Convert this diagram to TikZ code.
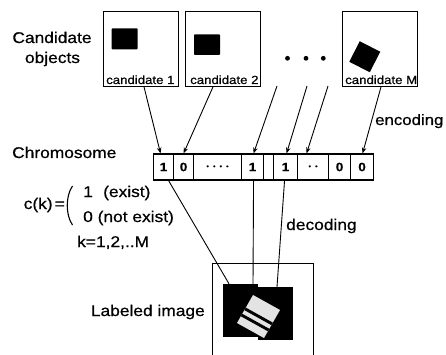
\documentclass[tikz,border=0pt]{standalone}
\usepackage{fontspec}
\setmainfont{Liberation Sans}[FakeStretch=1.12,FakeBold=0.6]
\usetikzlibrary{arrows.meta,calc}
\tikzset{
  lbl/.style={font=\fontsize{15.5}{19}\selectfont, inner sep=0pt},
  candbox/.style={draw, line width=0.7pt, minimum width=75pt, minimum height=75pt, inner sep=0pt},
  candlbl/.style={font=\fontsize{11.8}{14}\selectfont, inner sep=0pt, anchor=base west},
  cellbox/.style={draw, line width=1.1pt, minimum height=26pt, inner sep=0pt, anchor=west,
                  font=\bfseries\fontsize{12}{14}\selectfont},
  enc/.style={line width=0.9pt, -{Stealth[length=6pt,width=4.5pt]}},
  dec/.style={line width=0.9pt},
  blob/.style={fill=black, inner sep=0pt},
  tinydots/.style={font=\fontsize{6.5}{7}\selectfont}
}
\begin{document}
\begin{tikzpicture}[x=1pt,y=-1pt]
\useasboundingbox (0,0) rectangle (446,355);

% candidate objects
\node[lbl, anchor=base] (candtxt) at (52,43) {Candidate};
\node[lbl, anchor=base] (objtxt) at (52.5,63) {objects};

\node[candbox] (cand1) at (141,49) {};
\node[candbox] (cand2) at (223,49) {};
\node[candbox] (candM) at (380,49) {};
\node[candlbl] (cl1) at (106,84) {candidate 1};
\node[candlbl] (cl2) at (190,84) {candidate 2};
\node[candlbl] (clM) at (345,84) {candidate M};

\fill[rounded corners=0.8pt] (111.7,28.3) rectangle (137.7,49.3);
\fill[rounded corners=0.8pt] (194,34.3) rectangle (220,55);
\fill (359.75,41.25) -- (380.25,51.75) -- (369.75,72.25) -- (349.25,61.75) -- cycle;

\fill (287.5,58.3) circle (2.4);
\fill (306,58.3) circle (2.4);
\fill (323.3,58.3) circle (2.4);

% chromosome
\node[lbl, anchor=base west] (chromtxt) at (12,158) {Chromosome};
\node[cellbox, minimum width=20pt] (c1) at (153,167) {1};
\node[cellbox, minimum width=20pt] (c2) at (173,167) {0};
\node[cellbox, minimum width=48pt, tinydots] (c3) at (193,167)
  {\textbullet\hspace{4pt}\textbullet\hspace{4pt}\textbullet\hspace{4pt}\textbullet};
\node[cellbox, minimum width=22pt] (c4) at (241,167) {1};
\node[cellbox, minimum width=10pt] (c5) at (263,167) {};
\node[cellbox, minimum width=24pt] (c6) at (273,167) {1};
\node[cellbox, minimum width=31pt, tinydots] (c7) at (297,167) {\textbullet\hspace{4pt}\textbullet};
\node[cellbox, minimum width=22pt] (c8) at (328,167) {0};
\node[cellbox, minimum width=23pt] (c9) at (350,167) {0};

% encoding arrows
\coordinate (f1) at (277,86);
\coordinate (f2) at (307,86);
\coordinate (f3) at (328,86);
\draw[enc] ([xshift=3pt]cand1.south) -- ([xshift=-3pt]c1.north);
\draw[enc] ([xshift=-10pt]cand2.south) -- (c2.north);
\draw[enc] (f1) -- ([xshift=1pt]c4.north);
\draw[enc] (f2) -- ([xshift=1pt]c6.north);
\draw[enc] (f3) -- ([xshift=-6.5pt]c7.north);
\draw[enc] ([xshift=1pt]candM.south) -- ([xshift=0.5pt]c9.north);
\node[lbl, anchor=base west, font=\fontsize{15}{18}\selectfont] (enctxt) at (375,125) {encoding};

% definition of c(k)
\node[lbl, anchor=base east] (cktxt) at (65,209) {c(k)\hspace{2pt}=};
\draw[line width=1.1pt] (72.5,186) .. controls (65.5,196) and (65.5,215) .. (72.5,225);
\node[lbl, anchor=base west] (one) at (83,197) {1};
\node[lbl, anchor=base west] (exist) at (103,197) {(exist)};
\node[lbl, anchor=base west] (zero) at (83,222) {0 (not exist)};
\node[lbl, anchor=base west] (krange) at (77,247) {k=1,2,..M};

% labeled image
\node[draw, line width=0.7pt, minimum width=101pt, minimum height=100pt, anchor=north west, inner sep=0pt]
  (lblimg) at (212,263) {};
\node[lbl, anchor=base east] (lbltxt) at (205,316) {Labeled image};
\node[blob, minimum width=35pt, minimum height=53pt] (sqA) at (240.5,310.5) {};
\node[blob, minimum width=35pt, minimum height=53pt] (sqB) at (275.5,313.5) {};
\coordinate (L) at (237,323);
\coordinate (T) at (253,295);
\coordinate (R) at (280,310);
\coordinate (B) at (264,338);
\fill[gray!22] (L) -- (T) -- (R) -- (B) -- cycle;
\fill ($(L)!0.24!(T)$) -- ($(L)!0.33!(T)$) -- ($(B)!0.33!(R)$) -- ($(B)!0.24!(R)$) -- cycle;
\fill ($(L)!0.46!(T)$) -- ($(L)!0.55!(T)$) -- ($(B)!0.55!(R)$) -- ($(B)!0.46!(R)$) -- cycle;

% decoding lines
\draw[dec] ([xshift=5pt]c1.south) -- ([xshift=-11.5pt]sqA.north);
\draw[dec] ([xshift=1pt]c4.south) -- ([xshift=12.5pt]sqA.north);
\draw[dec] ([xshift=-1pt]c6.south) -- ([xshift=1.5pt]sqB.north);
\node[lbl, anchor=base west] (dectxt) at (286,230) {decoding};
\end{tikzpicture}
\end{document}
